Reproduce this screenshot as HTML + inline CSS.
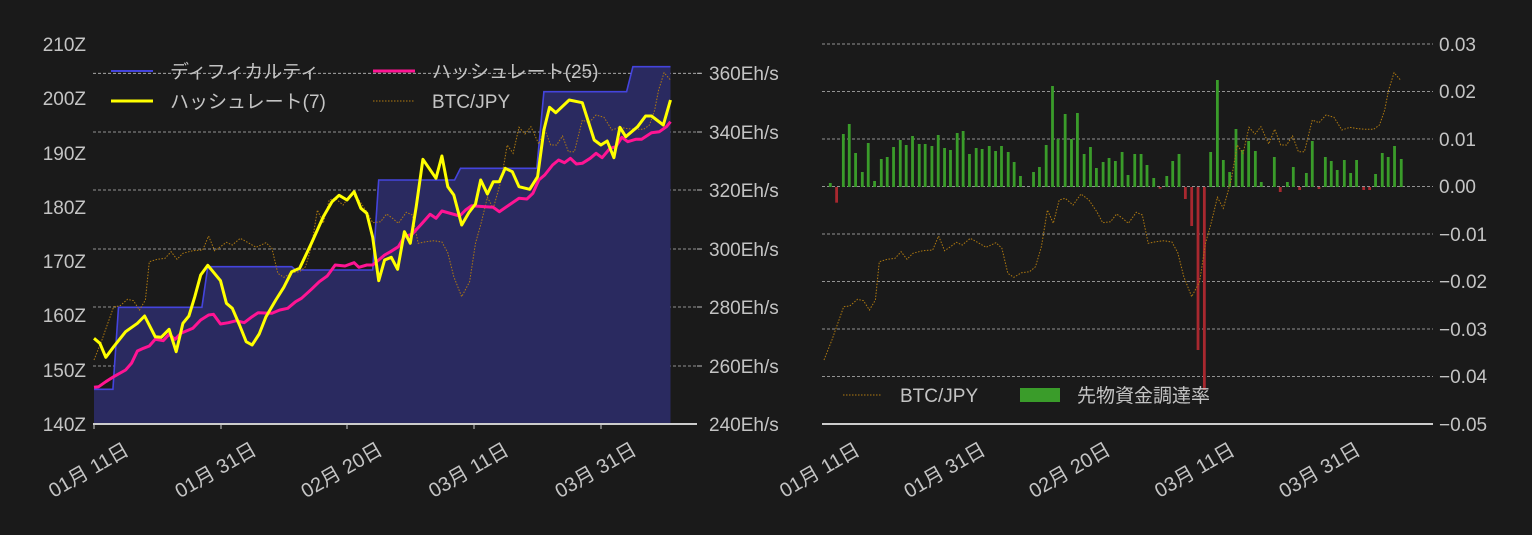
<!DOCTYPE html>
<html><head><meta charset="utf-8">
<style>
html,body{margin:0;padding:0;background:#1a1a1a;}
svg{display:block;}
text{font-family:"Liberation Sans","Noto Sans CJK JP",sans-serif;fill:#c4c4c4;}
</style></head>
<body>
<svg id="s" width="1532" height="535" viewBox="0 0 1532 535" xmlns="http://www.w3.org/2000/svg">
<rect width="1532" height="535" fill="#1a1a1a"/>
<g id="L"></g>
<g id="R"></g>
<g font-size="19" text-anchor="end">
<text x="86" y="51">210Z</text><text x="86" y="105">200Z</text><text x="86" y="160">190Z</text>
<text x="86" y="214">180Z</text><text x="86" y="268">170Z</text><text x="86" y="322">160Z</text>
<text x="86" y="377">150Z</text><text x="86" y="431">140Z</text>
</g>
<g font-size="19">
<text x="709" y="80">360Eh/s</text><text x="709" y="139">340Eh/s</text><text x="709" y="197">320Eh/s</text>
<text x="709" y="256">300Eh/s</text><text x="709" y="314">280Eh/s</text><text x="709" y="373">260Eh/s</text>
<text x="709" y="431">240Eh/s</text>
</g>
<g font-size="19">
<text x="1439" y="51">0.03</text><text x="1439" y="98">0.02</text><text x="1439" y="146">0.01</text>
<text x="1439" y="193">0.00</text><text x="1439" y="241">−0.01</text><text x="1439" y="288">−0.02</text>
<text x="1439" y="336">−0.03</text><text x="1439" y="383">−0.04</text><text x="1439" y="431">−0.05</text>
</g>
<line x1="111" y1="71" x2="153" y2="71" stroke="#4444dd" stroke-width="2"/>
<text x="170" y="78" font-size="19">ディフィカルティ</text>
<line x1="373" y1="71" x2="415" y2="71" stroke="#ff1493" stroke-width="3"/>
<text x="432" y="78" font-size="19">ハッシュレート(25)</text>
<line x1="111" y1="101" x2="153" y2="101" stroke="#ffff00" stroke-width="3"/>
<text x="170" y="108" font-size="19">ハッシュレート(7)</text>
<line x1="373" y1="101" x2="415" y2="101" stroke="#b07a10" stroke-width="1" stroke-dasharray="1.5,1.5"/>
<text x="432" y="108" font-size="19">BTC/JPY</text>
<line x1="843" y1="395" x2="882" y2="395" stroke="#b07a10" stroke-width="1" stroke-dasharray="1.5,1.5"/>
<text x="900" y="402" font-size="19">BTC/JPY</text>
<rect x="1020" y="388" width="40" height="14" fill="#3a9c2a"/>
<text x="1077" y="402" font-size="19">先物資金調達率</text>
<g id="X" font-size="20" text-anchor="middle"></g>
</svg>
<script>
var NS="http://www.w3.org/2000/svg";
function el(p,t,a){var e=document.createElementNS(NS,t);for(var k in a)e.setAttribute(k,a[k]);p.appendChild(e);return e;}
function pts(a,ox){var r=[];for(var i=0;i<a.length;i+=2)r.push((a[i]/2.529+ox).toFixed(1)+","+(a[i+1]/3+30).toFixed(1));return r.join(" ");}
var L=document.getElementById("L"),R=document.getElementById("R"),X=document.getElementById("X");
[73.3,132,190,249,307,366].forEach(function(y){el(L,"line",{x1:93,x2:703,y1:y,y2:y,stroke:"#bbb","stroke-width":0.8,"stroke-dasharray":"3,2"});el(L,"line",{x1:697,x2:702,y1:y,y2:y,stroke:"#bbb","stroke-width":1});});
[44,91.5,139,186.5,234,281.5,329,376.5].forEach(function(y){el(R,"line",{x1:822,x2:1433,y1:y,y2:y,stroke:"#bbb","stroke-width":0.8,"stroke-dasharray":"3,2"});});
var d=[10,1078,58,1078,72,832,283,832,298,710,510,710,520,720,715,720,730,450,922,450,937,415,1130,415,1148,185,1357,185,1373,110,1468,110];
el(L,"polygon",{points:pts(d,90)+" 670.5,424 94,424",fill:"#2a2a60"});
el(L,"polyline",{points:pts(d,90),fill:"none",stroke:"#4444dd","stroke-width":1.6});
var btc=[10,990,30,930,45,880,60,830,75,828,95,808,110,812,125,840,140,810,150,695,170,688,190,685,205,665,220,688,235,670,260,662,285,660,300,618,315,662,330,650,345,637,360,645,380,625,400,638,420,652,445,638,460,655,475,730,490,742,510,728,530,725,545,710,560,650,575,540,590,580,605,510,620,505,640,525,660,492,680,510,700,545,715,578,735,575,750,552,765,565,780,580,800,547,815,555,830,640,850,635,870,632,890,636,905,668,920,740,940,800,960,755,975,640,990,575,1005,502,1020,535,1040,450,1055,345,1070,370,1085,292,1100,312,1115,290,1135,342,1150,298,1165,345,1180,345,1195,318,1210,365,1225,365,1245,270,1262,278,1280,255,1300,262,1320,300,1340,292,1360,296,1380,298,1400,298,1415,285,1428,240,1438,180,1452,128,1468,150];
el(L,"polyline",{points:pts(btc,90),fill:"none",stroke:"#b07a10","stroke-width":1,"stroke-dasharray":"1.5,1.5"});
var y7=[10,925,25,940,40,982,60,950,90,905,120,880,138,858,165,920,180,922,200,898,218,965,235,880,250,858,265,800,280,735,298,706,330,752,345,820,360,835,378,885,395,935,410,945,428,912,445,860,470,810,490,772,510,725,530,715,560,640,590,560,612,515,630,496,650,510,668,485,685,535,700,550,715,622,730,752,745,690,762,682,778,718,795,605,810,640,825,530,842,388,875,445,890,378,905,470,920,495,940,585,958,548,975,522,988,450,1005,492,1020,455,1035,455,1050,415,1068,425,1085,470,1112,478,1132,440,1148,300,1162,232,1178,248,1212,210,1245,218,1275,330,1292,345,1308,333,1325,383,1340,292,1355,320,1385,290,1405,258,1420,258,1450,285,1468,210];
var p25=[10,1072,22,1070,40,1055,60,1040,90,1020,105,1000,120,963,135,955,150,948,165,928,185,932,200,913,215,928,230,910,260,895,280,870,300,855,312,853,330,882,350,878,370,872,390,878,410,860,425,848,460,850,480,840,500,835,520,815,535,805,560,778,580,755,600,738,620,705,645,708,668,698,680,712,700,705,715,705,730,690,745,675,760,665,780,650,795,620,815,612,840,580,860,553,875,565,890,543,935,558,950,540,965,527,1000,530,1020,532,1035,545,1060,525,1085,505,1105,507,1120,490,1135,450,1150,435,1170,405,1185,390,1200,398,1215,385,1230,402,1245,400,1265,385,1280,370,1295,383,1315,355,1330,350,1345,322,1360,335,1380,328,1395,328,1420,308,1440,305,1458,290,1468,275];
el(L,"polyline",{points:pts(p25,90),fill:"none",stroke:"#ff1493","stroke-width":3,"stroke-linejoin":"round"});
el(L,"polyline",{points:pts(y7,90),fill:"none",stroke:"#ffff00","stroke-width":3,"stroke-linejoin":"round"});
el(L,"line",{x1:93,x2:697,y1:424,y2:424,stroke:"#ccc","stroke-width":2});
var b=[26,459,42,-518,59,312,74,282,90,369,107,426,122,339,138,453,155,387,170,381,186,351,203,330,218,345,234,318,251,342,266,342,283,348,299,315,315,354,330,360,347,309,362,303,378,372,395,354,410,357,428,348,444,363,459,348,476,366,491,396,507,438,540,426,555,411,572,345,588,168,602,327,620,252,636,327,651,249,668,372,684,351,699,414,716,396,731,384,747,393,764,366,779,435,796,372,812,372,827,405,844,444,860,-476,877,438,892,393,908,372,924,-507,940,-588,956,-960,972,-1080,988,366,1005,150,1020,390,1036,426,1052,297,1068,360,1084,333,1101,363,1116,456,1149,381,1164,-486,1182,456,1197,411,1213,-480,1230,429,1245,333,1262,-477,1278,381,1293,393,1308,420,1326,390,1342,429,1357,390,1375,-480,1390,-480,1405,432,1422,369,1437,381,1453,348,1470,387];
var z=471/3+30;
for(var i=0;i<b.length;i+=2){var x=b[i]/2.529+820-1.4,v=b[i+1];
 if(v>0){var y=v/3+30;el(R,"rect",{x:x,y:y,width:2.8,height:z-y,fill:"#3a9c2a"});}
 else{var y=-v/3+30;el(R,"rect",{x:x,y:z,width:2.8,height:y-z,fill:"#a8282f"});}}
el(R,"polyline",{points:pts(btc,820),fill:"none",stroke:"#b07a10","stroke-width":1,"stroke-dasharray":"1.5,1.5"});
el(R,"line",{x1:822,x2:1433,y1:424,y2:424,stroke:"#ccc","stroke-width":2});
var labs=["01月 11日","01月 31日","02月 20日","03月 11日","03月 31日"];
[94,221,347,474,601].forEach(function(x,i){el(L,"line",{x1:x,x2:x,y1:424,y2:429,stroke:"#ccc"});var t=el(X,"text",{x:0,y:0,transform:"translate("+(x-2)+",476) rotate(-30)"});t.textContent=labs[i];});
[825,950,1075,1200,1325].forEach(function(x,i){var t=el(X,"text",{x:0,y:0,transform:"translate("+(x-2)+",476) rotate(-30)"});t.textContent=labs[i];});
</script>
</body></html>
